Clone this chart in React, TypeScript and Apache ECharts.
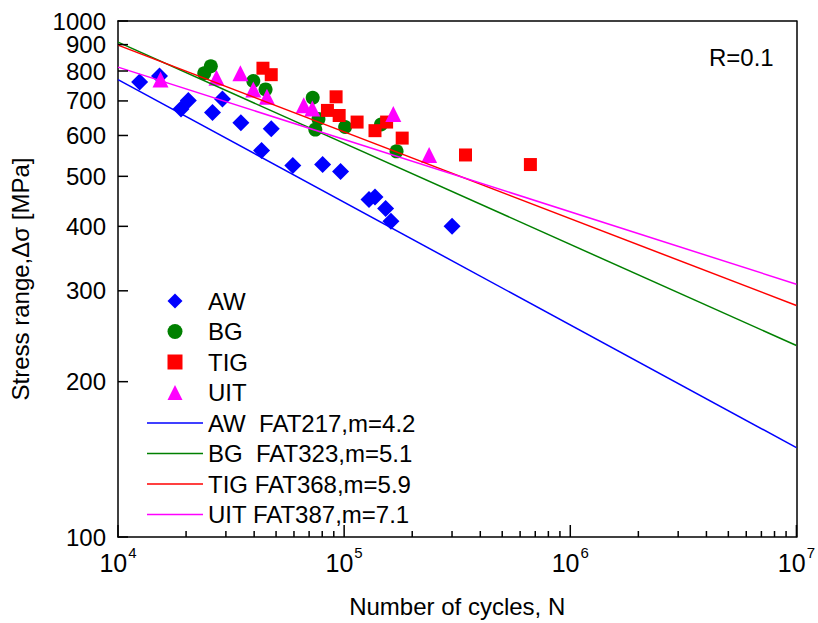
import React, { useEffect, useRef } from "react";
import * as echarts from "echarts";

// ---- data ----
const awN = [12460, 15260, 18990, 20460, 26180, 28970, 34940, 43140, 47600, 59300, 80350, 96430, 128800, 136900, 152600, 161000, 300000];
const awS = [762, 782, 675, 701, 665, 706, 635, 561, 618, 525, 527, 511, 451, 456, 433, 409, 400];

const bgN = [24070, 25730, 39660, 44930, 72610, 77000, 74550, 101000, 145500, 170500];
const bgS = [792, 817, 765, 737, 710, 646, 616, 623, 630, 559];

const tigN = [43750, 47600, 84360, 92130, 95060, 114100, 136900, 154100, 180600, 344100, 666200];
const tigS = [810, 787, 671, 713, 656, 637, 613, 637, 593, 550, 527];

const uitN = [15410, 27270, 34770, 39660, 45570, 66300, 72310, 165000, 237500];
const uitS = [770, 776, 792, 737, 713, 687, 677, 660, 550];

// fitted S-N lines (end points at N = 1e4 and N = 1e7)
const fitN = [1e4, 1e7];
const awFit = [770, 149];
const bgFit = [910, 235];
const tigFit = [898, 281];
const uitFit = [814, 309];

// tick values
const xMajorTicks = [1e4, 1e5, 1e6, 1e7];
const xMinorTicks = [
  2e4, 3e4, 4e4, 5e4, 6e4, 7e4, 8e4, 9e4,
  2e5, 3e5, 4e5, 5e5, 6e5, 7e5, 8e5, 9e5,
  2e6, 3e6, 4e6, 5e6, 6e6, 7e6, 8e6, 9e6,
];
const yTicks = [100, 200, 300, 400, 500, 600, 700, 800, 900, 1000];

const scatterNames = ["AW", "BG", "TIG", "UIT"];
const lineNames = ["AW  FAT217,m=4.2", "BG  FAT323,m=5.1", "TIG FAT368,m=5.9", "UIT FAT387,m=7.1"];

const FONT = "'Liberation Sans', Arial, sans-serif";
const BLUE = "#0000FF";
const GREEN = "#008000";
const RED = "#FF0000";
const MAGENTA = "#FF00FF";

const ICON_DIAMOND = "path://M1,0 L2,1 L1,2 L0,1 Z";
const ICON_CIRCLE = "path://M0,1 A1,1 0 1,0 2,1 A1,1 0 1,0 0,1 Z";
const ICON_SQUARE = "path://M0,0 L2,0 L2,2 L0,2 Z";
const ICON_TRIANGLE = "path://M1,0 L2,2 L0,2 Z";
const ICON_LINE = "path://M0,0 L56,0 L56,1.5 L0,1.5 Z";

const zip = (a: number[], b: number[]) => a.map((v, i) => [v, b[i]]);

// tick marks drawn as thin rectangle symbols through the axes' scales
const tickSeries = (name: string, data: number[][], size: number[], offset: number[]) => ({
  name,
  type: "scatter",
  silent: true,
  clip: false,
  z: 20,
  symbol: "rect",
  symbolSize: size,
  symbolOffset: offset,
  itemStyle: { color: "#000", opacity: 1 },
  emphasis: { disabled: true },
  tooltip: { show: false },
  data,
});

export default function App() {
  const ref = useRef<HTMLDivElement>(null);
  useEffect(() => {
    if (!ref.current) return;
    const chart = echarts.init(ref.current, null, { renderer: "svg" });
    const axisLineStyle = { color: "#000", width: 1.5 };
    const frameAxis = {
      axisLine: { show: true, onZero: false, lineStyle: axisLineStyle },
      axisTick: { show: false },
      axisLabel: { show: false },
      splitLine: { show: false },
    };
    const option: any = {
      animation: false,
      backgroundColor: "#fff",
      textStyle: { fontFamily: FONT },
      grid: { left: 115, right: 21, top: 21, bottom: 75 },
      xAxis: [
        {
          type: "log",
          logBase: 10,
          min: 1e4,
          max: 1e7,
          position: "bottom",
          axisLine: { show: true, onZero: false, lineStyle: axisLineStyle },
          axisTick: { show: false },
          axisLabel: {
            customValues: xMajorTicks,
            showMinLabel: true,
            showMaxLabel: true,
            margin: 8,
            formatter: (v: number) => `{a|10}{b|${Math.round(Math.log10(v))}}`,
            rich: {
              a: { fontSize: 25, color: "#000", fontFamily: FONT, lineHeight: 30, verticalAlign: "bottom" },
              b: { fontSize: 15, color: "#000", fontFamily: FONT, lineHeight: 30, verticalAlign: "top", padding: [0, 0, 0, 1] },
            },
          },
          splitLine: { show: false },
          name: "Number of cycles, N",
          nameLocation: "middle",
          nameGap: 57,
          nameTextStyle: { fontSize: 24, color: "#000", fontFamily: FONT },
        },
        { type: "log", logBase: 10, min: 1e4, max: 1e7, position: "top", ...frameAxis },
      ],
      yAxis: [
        {
          type: "log",
          logBase: 10,
          min: 100,
          max: 1000,
          position: "left",
          axisLine: { show: true, onZero: false, lineStyle: axisLineStyle },
          axisTick: { show: false },
          axisLabel: { show: false },
          splitLine: { show: false },
          name: "Stress range,\u0394\u03c3 [MPa]",
          nameLocation: "middle",
          nameGap: 86,
          nameTextStyle: { fontSize: 24, color: "#000", fontFamily: FONT },
        },
        { type: "log", logBase: 10, min: 100, max: 1000, position: "right", ...frameAxis },
      ],
      legend: {
        orient: "vertical",
        left: 147,
        top: 289,
        padding: 0,
        itemWidth: 56,
        itemHeight: 15,
        itemGap: 6.5,
        symbolKeepAspect: true,
        textStyle: { fontSize: 24, color: "#000", fontFamily: FONT },
        data: [
          { name: scatterNames[0], icon: ICON_DIAMOND },
          { name: scatterNames[1], icon: ICON_CIRCLE },
          { name: scatterNames[2], icon: ICON_SQUARE },
          { name: scatterNames[3], icon: ICON_TRIANGLE },
          { name: lineNames[0], icon: ICON_LINE },
          { name: lineNames[1], icon: ICON_LINE },
          { name: lineNames[2], icon: ICON_LINE },
          { name: lineNames[3], icon: ICON_LINE },
        ],
      },
      series: [
        { name: "AW", type: "scatter", symbol: "diamond", symbolSize: 17, itemStyle: { color: BLUE, opacity: 1 }, data: zip(awN, awS) },
        { name: "BG", type: "scatter", symbol: "circle", symbolSize: 14, itemStyle: { color: GREEN, opacity: 1 }, data: zip(bgN, bgS) },
        { name: "TIG", type: "scatter", symbol: "rect", symbolSize: 13, itemStyle: { color: RED, opacity: 1 }, data: zip(tigN, tigS) },
        { name: "UIT", type: "scatter", symbol: "triangle", symbolSize: 16, itemStyle: { color: MAGENTA, opacity: 1 }, data: zip(uitN, uitS) },
        { name: lineNames[0], type: "line", symbol: "none", lineStyle: { color: BLUE, width: 1.5 }, itemStyle: { color: BLUE }, data: zip(fitN, awFit) },
        { name: lineNames[1], type: "line", symbol: "none", lineStyle: { color: GREEN, width: 1.5 }, itemStyle: { color: GREEN }, data: zip(fitN, bgFit) },
        { name: lineNames[2], type: "line", symbol: "none", lineStyle: { color: RED, width: 1.5 }, itemStyle: { color: RED }, data: zip(fitN, tigFit) },
        { name: lineNames[3], type: "line", symbol: "none", lineStyle: { color: MAGENTA, width: 1.5 }, itemStyle: { color: MAGENTA }, data: zip(fitN, uitFit) },
        tickSeries("yTicks", yTicks.map((v) => [xMajorTicks[0], v]), [10, 1.5], [5, 0]),
        tickSeries("xMajorTicks", xMajorTicks.map((v) => [v, yTicks[0]]), [1.5, 12], [0, -6]),
        tickSeries("xMinorTicks", xMinorTicks.map((v) => [v, yTicks[0]]), [1.5, 6], [0, -3]),
      ],
    };
    chart.setOption(option);

    // y tick labels, positioned through the axes' own scale
    const toPx = (x: number, y: number): number[] =>
      chart.convertToPixel({ xAxisIndex: 0, yAxisIndex: 0 }, [x, y]) as number[];
    const graphics: any[] = [];
    yTicks.forEach((v) => {
      const p = toPx(xMajorTicks[0], v);
      graphics.push({
        type: "text",
        silent: true,
        z: 50,
        x: p[0] - 12,
        y: p[1],
        style: { text: String(v), fontSize: 24, fill: "#000", fontFamily: FONT, align: "right", verticalAlign: "middle" },
      });
    });
    graphics.push({
      type: "text",
      left: 709,
      top: 45,
      style: { text: "R=0.1", fontSize: 24, fill: "#000", fontFamily: FONT },
    });
    chart.setOption({ graphic: graphics });

    return () => chart.dispose();
  }, []);
  return (
    <div
      ref={ref}
      style={{ position: "absolute", left: 0, top: 0, width: 818, height: 623, background: "#fff" }}
    />
  );
}
